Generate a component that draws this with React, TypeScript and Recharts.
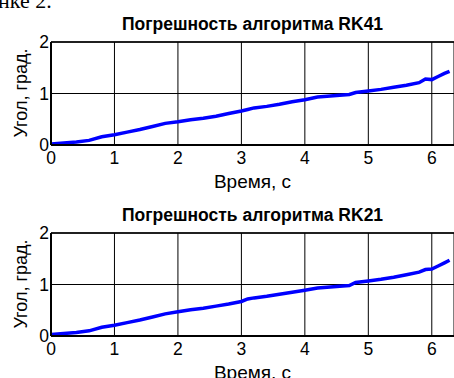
import { CartesianGrid, Line, LineChart, XAxis, YAxis, ReferenceLine } from "recharts"

const time = [
  0, 0.2, 0.4, 0.6, 0.8, 1.0, 1.2, 1.4, 1.6, 1.8, 2.0, 2.2, 2.4, 2.6, 2.8, 3.0, 3.1, 3.2, 3.4, 3.6, 3.8,
  4.0, 4.2, 4.4, 4.6, 4.7, 4.8, 5.0, 5.2, 5.4, 5.6, 5.8, 5.9, 6.0, 6.1, 6.2, 6.28,
]
const rk41 = [
  0.02, 0.04, 0.06, 0.09, 0.16, 0.2, 0.25, 0.3, 0.36, 0.42, 0.45, 0.49, 0.52, 0.56, 0.61, 0.66, 0.69, 0.72,
  0.75, 0.79, 0.84, 0.88, 0.93, 0.95, 0.97, 0.98, 1.02, 1.05, 1.08, 1.12, 1.16, 1.21, 1.28, 1.27, 1.33, 1.39, 1.43,
]
const rk21 = [
  0.03, 0.05, 0.07, 0.1, 0.17, 0.21, 0.26, 0.31, 0.37, 0.43, 0.47, 0.51, 0.54, 0.58, 0.62, 0.67, 0.72, 0.74,
  0.77, 0.81, 0.85, 0.89, 0.93, 0.95, 0.97, 0.98, 1.04, 1.07, 1.1, 1.14, 1.19, 1.24, 1.29, 1.3, 1.36, 1.42, 1.47,
]
const xTicks = [0, 1, 2, 3, 4, 5, 6]
const yTicks = [0, 1, 2]

const font = "Arial, 'Liberation Sans', sans-serif"

function Panel({ title, values, top }: { title: string; values: number[]; top: number }) {
  const data = time.map((t, i) => ({ t, v: values[i] }))
  return (
    <div style={{ position: "absolute", left: 0, top, width: 454, height: 190 }}>
      <div
        style={{
          position: "absolute",
          left: 51,
          width: 403,
          top: 14,
          textAlign: "center",
          fontFamily: font,
          fontWeight: "bold",
          fontSize: 17.5,
          lineHeight: "20px",
        }}
      >
        {title}
      </div>
      <LineChart width={454} height={190} data={data} margin={{ top: 42, right: 0, left: 11, bottom: 0 }}>
        <CartesianGrid stroke="#000" strokeWidth={1} />
        <XAxis
          dataKey="t"
          type="number"
          domain={[0, 6.35]}
          ticks={xTicks}
          tickLine={false}
          tickSize={0}
          tickMargin={7}
          height={45}
          axisLine={{ stroke: "#000", strokeWidth: 2 }}
          tick={{ fill: "#000", fontSize: 17.5, fontFamily: font }}
          allowDataOverflow
        />
        <YAxis
          type="number"
          domain={[0, 2]}
          ticks={yTicks}
          tickLine={false}
          tickSize={0}
          tickMargin={2}
          width={40}
          axisLine={{ stroke: "#000", strokeWidth: 2 }}
          tick={{ fill: "#000", fontSize: 17.5, fontFamily: font }}
        />
        <ReferenceLine y={2} stroke="#000" strokeWidth={1.5} />
        <Line
          dataKey="v"
          type="linear"
          stroke="#0000ff"
          strokeWidth={3.5}
          dot={false}
          isAnimationActive={false}
        />
      </LineChart>
      <div
        style={{
          position: "absolute",
          left: 51,
          width: 403,
          top: 172,
          textAlign: "center",
          fontFamily: font,
          fontSize: 19,
          lineHeight: "20px",
        }}
      >
        Время, с
      </div>
      <div
        style={{
          position: "absolute",
          left: 21,
          top: 93,
          fontFamily: font,
          fontSize: 18,
          lineHeight: "20px",
          whiteSpace: "nowrap",
          transform: "translate(-50%, -50%) rotate(-90deg)",
        }}
      >
        Угол, град.
      </div>
    </div>
  )
}

export default function App() {
  return (
    <div
      style={{
        position: "absolute",
        left: 0,
        top: 0,
        width: 454,
        height: 378,
        overflow: "hidden",
        background: "#fff",
      }}
    >
      <div
        style={{
          position: "absolute",
          left: -2,
          top: -12,
          fontFamily: "'Liberation Serif', 'Times New Roman', serif",
          fontSize: 22,
          lineHeight: "26px",
          whiteSpace: "nowrap",
        }}
      >
        нке 2.
      </div>
      <Panel title="Погрешность алгоритма RK41" values={rk41} top={0} />
      <Panel title="Погрешность алгоритма RK21" values={rk21} top={191} />
    </div>
  )
}
